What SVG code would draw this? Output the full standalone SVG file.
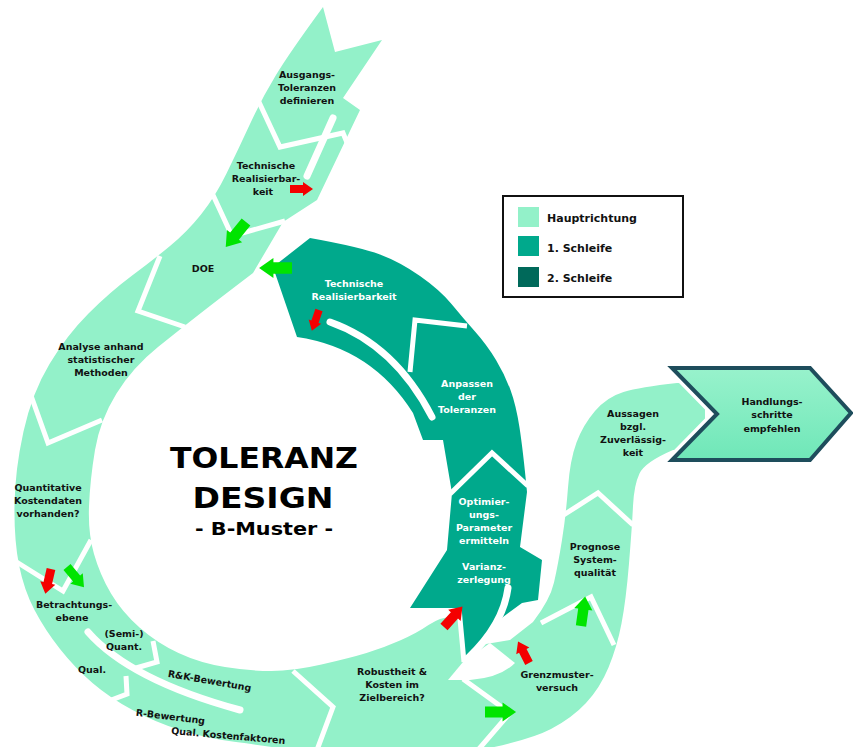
<svg xmlns="http://www.w3.org/2000/svg" width="853" height="747" viewBox="0 0 853 747">
<style>
.light{fill:#93F1C9}
.teal{fill:#00A98C}
.sep{fill:none;stroke:#fff;stroke-width:5;stroke-linejoin:miter}
.rline{fill:none;stroke:#fff;stroke-width:7;stroke-linecap:round}
.red{fill:#F40000}
.grn{fill:#00E400}
text{font-family:"DejaVu Sans","Liberation Sans",sans-serif;font-weight:bold}
.t{font-size:9.5px;fill:#111;text-anchor:middle}
.w{font-size:9.5px;fill:#fff;text-anchor:middle}
.lg{font-size:11px;fill:#111}
.title{fill:#000;text-anchor:middle}
</style>
<defs>
<path id="arr" d="M0,-4 H13 V-7 L23,0 L13,7 V4 H0 Z"/>
<linearGradient id="hg" x1="0" y1="0" x2="0" y2="1">
<stop offset="0" stop-color="#98F2CC"/>
<stop offset="1" stop-color="#6FE7B8"/>
</linearGradient>
</defs>
<rect width="853" height="747" fill="#fff"/>

<g id="main-band">
<path class="light" d="M323,7 Q290,52 276,75 Q262,98 250,124 Q238,150 226.5,173.5 Q215,197 201,214.5 Q187,232 170,246 Q153,260 131.5,276 Q110,292 88.5,313.5 Q67,335 49.5,364 Q32,393 23.5,431.5 Q15,470 14.5,505 Q14,540 19,565 Q24,590 34.5,610 Q45,630 60,649 Q75,668 92.5,683 Q110,698 132.5,710 Q155,722 180,730 Q205,738 236,742 Q267,746 290,750 L480,750 Q530,740 551,729 Q572,718 586,703 Q600,688 608.5,667.5 Q617,647 621.5,623.5 Q626,600 629,563.5 Q632,527 633,506 Q634,485 639.5,473.5 Q645,462 673,450 L705,450 L705,384 L677,383 Q640,387 623.5,392 Q607,397 595,411 Q583,425 576.5,442.5 Q570,460 568,487.5 Q566,515 562,540 Q558,565 554,582.5 Q550,600 533,622 L510,640 L480,645 L460,615 Q440,617 428.5,625 Q417,633 400,640.5 Q383,648 366.5,653 Q350,658 321.5,664.5 Q293,671 271.5,671 Q250,671 225,667 Q200,663 178.5,653 Q157,643 139.5,627.5 Q122,612 111,593.5 Q100,575 94,554 Q88,533 89,506.5 Q90,480 95,450 Q100,420 116.5,393.5 Q133,367 158,347 Q183,327 199,314.5 Q215,302 234,287.5 L253,273 L283,222 L317,200 L360,110 L343,98 L382,40 L335,52 Z"/>
</g>

<g id="gap">
<path fill="#fff" d="M448,680 L463,662 L490,643 L515,663 Q500,678 470,680 Z"/>
</g>

<g id="loop-band">
<path class="teal" d="M273,267 L310,238 Q360,247 380,254.5 Q400,262 420,276 Q440,290 451.5,304 Q463,318 475,331.5 Q487,345 496,360 Q505,375 510.5,390 Q516,405 519.5,427.5 Q523,450 527,492 L520,547 L542,560 L538,600 L522,603 L503,617 L470,655 L463,662 L460,608 L410,608 L447,550 L452,493 L443,440 L423,440 L413,413 Q372,348 297,337 Z"/>
</g>

<g id="connectors">
<polyline class="sep" points="258,100 280,147 343,133 348,145"/>
<line class="rline" x1="333" y1="118" x2="307" y2="176"/>
<polyline class="sep" points="213,195 232,236 285,221"/>
<polyline class="sep" points="160,256 138,311 185,327"/>
<polyline class="sep" points="29,390 48,443 102,420"/>
<polyline class="sep" points="15,561 63,591 91,540"/>
<path class="rline" stroke-width="8" d="M88,632 Q130,680 240,710"/>
<polyline class="sep" points="153,641 157,662 136,668"/>
<polyline class="sep" points="126,676 127,694 106,702"/>
<polyline class="sep" points="293,671 333,707 317,750"/>
<polyline class="sep" points="463,679 510,713 478,750"/>
<polyline class="sep" points="541,623 591,597 614,645"/>
<polyline class="sep" points="562,516 598,493 633,525"/>
<line class="sep" stroke-width="3" x1="459" y1="608" x2="464" y2="662"/>
<path class="rline" stroke-width="6" d="M330,322 Q395,345 432,417"/>
<polyline class="sep" points="467,326 415,320 410,372"/>
<polyline class="sep" points="450,494 492,453 528,486"/>
<path class="rline" stroke-width="6" d="M508,588 Q503,625 468,658"/>
</g>

<g id="handlung">
<polygon points="672,368 810,368 851,413 810,460 672,460 717,414" fill="none" stroke="#fff" stroke-width="11" stroke-linejoin="miter"/>
<polygon points="672,368 810,368 851,413 810,460 672,460 717,414" fill="url(#hg)" stroke="#1E4D5C" stroke-width="4" stroke-linejoin="miter"/>
<text class="t" x="772" y="405">Handlungs-</text>
<text class="t" x="772" y="418">schritte</text>
<text class="t" x="772" y="432">empfehlen</text>
</g>

<g id="arrows">
<use href="#arr" class="red" transform="translate(290,189)"/>
<use href="#arr" class="grn" transform="translate(246,222) rotate(129) scale(1.4)"/>
<use href="#arr" class="grn" transform="translate(292,268) rotate(180) scale(1.43)"/>
<use href="#arr" class="red" transform="translate(319,310) rotate(109) scale(0.95)"/>
<use href="#arr" class="red" transform="translate(51,569) rotate(103) scale(1.1)"/>
<use href="#arr" class="grn" transform="translate(67,567) rotate(50) scale(1.15)"/>
<use href="#arr" class="red" transform="translate(444,627) rotate(-48) scale(1.2)"/>
<use href="#arr" class="red" transform="translate(529,663) rotate(-117) scale(1.05)"/>
<use href="#arr" class="grn" transform="translate(485,712) scale(1.35)"/>
<use href="#arr" class="grn" transform="translate(581,626) rotate(-82) scale(1.3)"/>
</g>

<g id="n-ausgangs"><text class="t" x="307" y="78">Ausgangs-</text><text class="t" x="307" y="91">Toleranzen</text><text class="t" x="307" y="104">definieren</text></g>
<g id="n-techn1"><text class="t" x="266" y="169">Technische</text><text class="t" x="266" y="182">Realisierbar-</text><text class="t" x="263" y="195">keit</text></g>
<g id="n-doe"><text class="t" x="203" y="272">DOE</text></g>
<g id="n-analyse"><text class="t" x="101" y="350">Analyse anhand</text><text class="t" x="101" y="363">statistischer</text><text class="t" x="101" y="376">Methoden</text></g>
<g id="n-quant"><text class="t" x="48" y="491">Quantitative</text><text class="t" x="48" y="504">Kostendaten</text><text class="t" x="48" y="517">vorhanden?</text></g>
<g id="n-betr"><text class="t" x="74" y="608">Betrachtungs-</text><text class="t" x="72" y="621">ebene</text></g>
<g id="n-semi"><text class="t" x="124" y="637">(Semi-)</text><text class="t" x="124" y="650">Quant.</text></g>
<g id="n-qual"><text class="t" x="92" y="673">Qual.</text></g>
<g id="n-rk"><text class="t" transform="translate(209,684) rotate(10)">R&amp;K-Bewertung</text></g>
<g id="n-r"><text class="t" transform="translate(170,720) rotate(7)">R-Bewertung</text></g>
<g id="n-qk"><text class="t" transform="translate(228,739) rotate(5)">Qual. Kostenfaktoren</text></g>
<g id="n-robust"><text class="t" x="392" y="675">Robustheit &amp;</text><text class="t" x="392" y="688">Kosten im</text><text class="t" x="392" y="701">Zielbereich?</text></g>
<g id="n-grenz"><text class="t" x="557" y="678">Grenzmuster-</text><text class="t" x="557" y="691">versuch</text></g>
<g id="n-prog"><text class="t" x="595" y="550">Prognose</text><text class="t" x="595" y="563">System-</text><text class="t" x="595" y="576">qualität</text></g>
<g id="n-aussagen"><text class="t" x="633" y="417">Aussagen</text><text class="t" x="633" y="430">bzgl.</text><text class="t" x="633" y="443">Zuverlässig-</text><text class="t" x="633" y="456">keit</text></g>
<g id="n-techn2"><text class="w" x="354" y="287">Technische</text><text class="w" x="354" y="300">Realisierbarkeit</text></g>
<g id="n-anpassen"><text class="w" x="467" y="387">Anpassen</text><text class="w" x="467" y="400">der</text><text class="w" x="467" y="413">Toleranzen</text></g>
<g id="n-opt"><text class="w" x="484" y="505">Optimier-</text><text class="w" x="484" y="518">ungs-</text><text class="w" x="484" y="531">Parameter</text><text class="w" x="484" y="544">ermitteln</text></g>
<g id="n-varianz"><text class="w" x="484" y="570">Varianz-</text><text class="w" x="484" y="583">zerlegung</text></g>

<g id="title">
<text class="title" x="264" y="468" font-size="29" textLength="188" lengthAdjust="spacingAndGlyphs">TOLERANZ</text>
<text class="title" x="263" y="508" font-size="29" textLength="141" lengthAdjust="spacingAndGlyphs">DESIGN</text>
<text class="title" x="264" y="535" font-size="18" textLength="138" lengthAdjust="spacingAndGlyphs">- B-Muster -</text>
</g>

<g id="legend">
<rect x="503" y="196" width="180" height="101" fill="#fff" stroke="#111" stroke-width="2"/>
<rect x="518" y="207" width="21" height="20" fill="#93F1C9"/>
<rect x="518" y="236" width="21" height="20" fill="#00A98C"/>
<rect x="518" y="267" width="21" height="20" fill="#00695A"/>
<text class="lg" x="547" y="222">Hauptrichtung</text>
<text class="lg" x="547" y="252">1. Schleife</text>
<text class="lg" x="547" y="282">2. Schleife</text>
</g>
</svg>
